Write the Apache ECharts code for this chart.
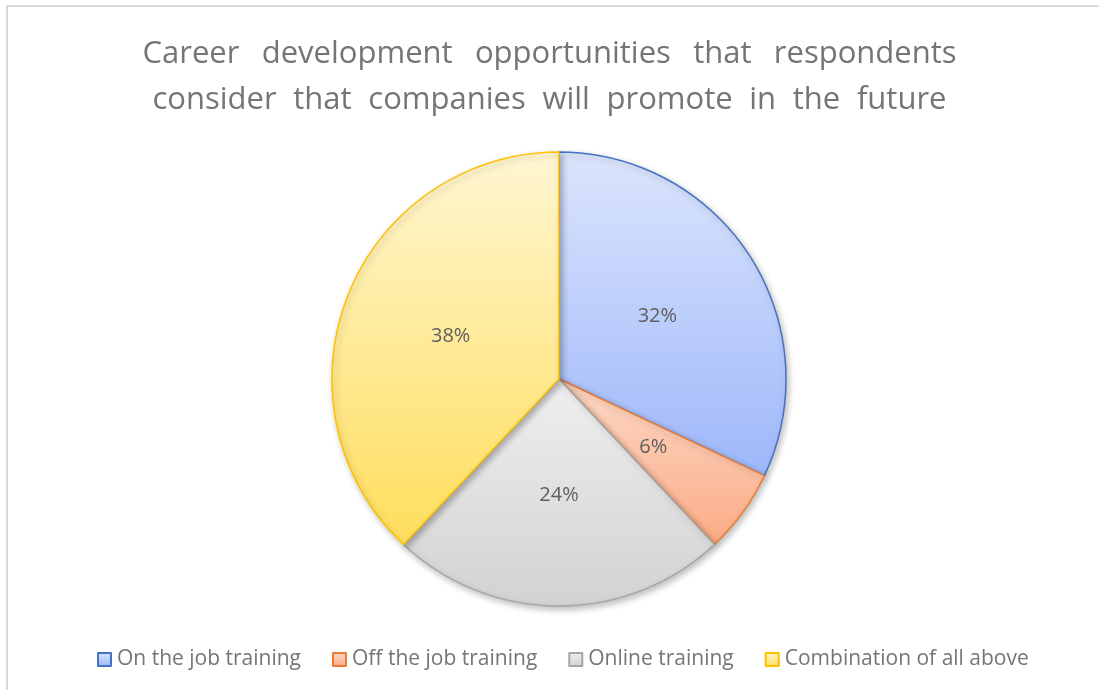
<!DOCTYPE html>
<html>
<head>
<meta charset="utf-8">
<script src="https://cdn.jsdelivr.net/npm/echarts@6/dist/echarts.min.js"></script>
<style>html,body{margin:0;padding:0;background:#fff;}#c{width:1099px;height:690px;}</style>
</head>
<body>
<div id="c"></div>
<script>
const titleLines = ["Career development opportunities that respondents", "consider that companies will promote in the future"];
const categories = ["On the job training", "Off the job training", "Online training", "Combination of all above"];
const values = [32, 6, 24, 38];
const borderColors = ["#4472C4", "#ED7D31", "#A5A5A5", "#FFC000"];
const topColors = ["#dce5fc", "#fdd8c6", "#efefef", "#fff6d2"];
const bottomColors = ["#9db7fa", "#fbab85", "#d2d2d2", "#ffde5c"];

const font = "'Open Sans', 'Noto Sans', sans-serif";
const titleSize = 31;
const titleLineWidths = [814, 794]; // justified widths of the two title lines

// measure words to spread the title lines like the reference (wide word gaps)
const cv = document.createElement('canvas').getContext('2d');
cv.font = titleSize + "px " + font;
const rich = {};
const titleText = titleLines.map((line, li) => {
  const words = line.split(' ');
  const wsum = words.reduce((s, w) => s + cv.measureText(w).width, 0);
  const gap = Math.max(6, (titleLineWidths[li] - wsum) / (words.length - 1));
  rich['g' + li] = {width: gap, fontSize: titleSize, fontFamily: font};
  rich['w' + li] = {fontSize: titleSize, fontFamily: font, color: '#757575'};
  return words.map(w => '{w' + li + '|' + w + '}').join('{g' + li + '| }');
}).join('\n');

const chart = echarts.init(document.getElementById('c'));
const data = categories.map((name, i) => ({
  name: name,
  value: values[i],
  itemStyle: {
    color: new echarts.graphic.LinearGradient(0, 0, 0, 1, [
      {offset: 0, color: topColors[i]},
      {offset: 1, color: bottomColors[i]}
    ]),
    borderColor: borderColors[i],
    borderWidth: 1.5
  }
}));

chart.setOption({
  animation: false,
  backgroundColor: '#fff',
  graphic: [{
    type: 'rect',
    shape: {x: 7, y: 6, width: 1200, height: 800},
    style: {fill: 'none', stroke: '#d9d9d9', lineWidth: 2},
    silent: true
  }],
  title: {
    text: titleText,
    left: 'center',
    top: 26,
    textStyle: {
      fontFamily: font,
      fontSize: titleSize,
      fontWeight: 'normal',
      color: '#757575',
      lineHeight: 46,
      rich: rich
    }
  },
  legend: {
    bottom: 15,
    left: 92,
    itemWidth: 13,
    itemHeight: 13,
    itemGap: 31,
    icon: 'rect',
    textStyle: {fontFamily: font, fontSize: 21, color: '#757575', padding: [0, 0, 0, 1]},
    data: categories
  },
  series: [{
    type: 'pie',
    center: [559, 379],
    radius: [0, 227],
    startAngle: 90,
    clockwise: true,
    data: data,
    label: {
      show: true,
      position: 'inside',
      formatter: '{d}%',
      fontFamily: font,
      fontSize: 20,
      color: '#5f5f5f'
    },
    labelLine: {show: false},
    emphasis: {disabled: true},
    itemStyle: {
      shadowBlur: 6,
      shadowOffsetX: 2,
      shadowOffsetY: 3,
      shadowColor: 'rgba(0,0,0,0.25)'
    }
  }]
});
</script>
</body>
</html>
